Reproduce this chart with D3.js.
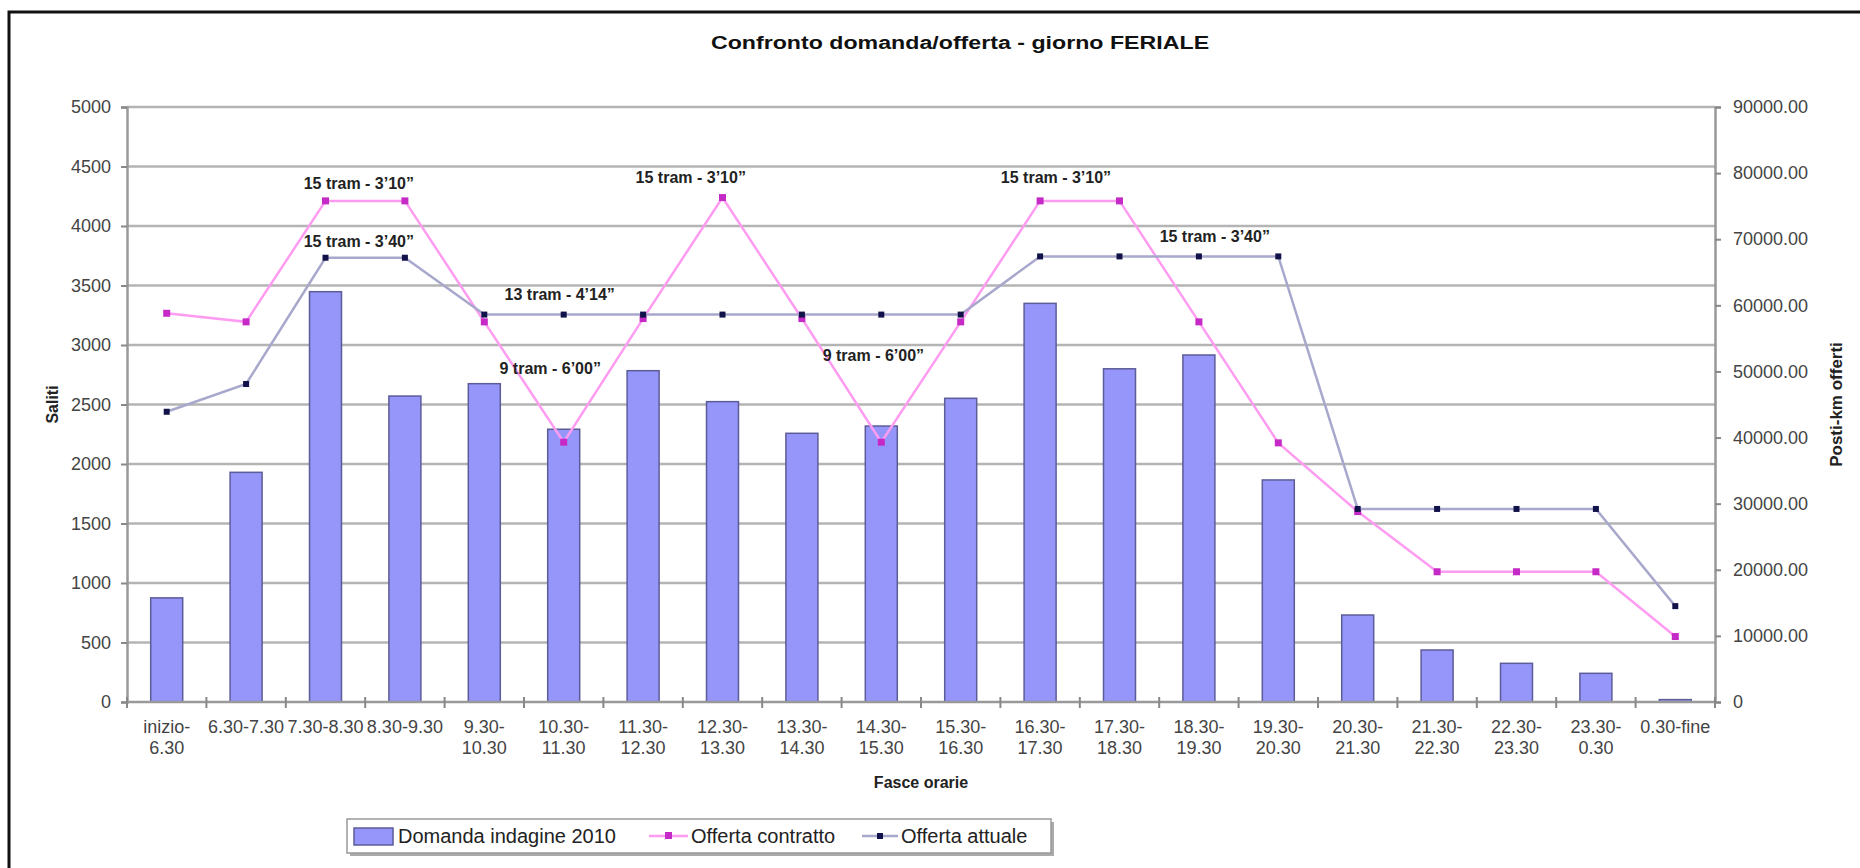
<!DOCTYPE html>
<html>
<head>
<meta charset="utf-8">
<script src="https://cdn.jsdelivr.net/npm/d3@7"></script>
<style>
	body { margin: 0; background: #ffffff; }
	svg text { font-family: "Liberation Sans", Arial, sans-serif; }
</style>
</head>
<body>
<div id="chart"></div>
<script>
// confronto domanda / offerta - giorno feriale

var fasce = [["inizio-","6.30"],["6.30-7.30"],["7.30-8.30"],["8.30-9.30"],["9.30-","10.30"],
	["10.30-","11.30"],["11.30-","12.30"],["12.30-","13.30"],["13.30-","14.30"],["14.30-","15.30"],
	["15.30-","16.30"],["16.30-","17.30"],["17.30-","18.30"],["18.30-","19.30"],["19.30-","20.30"],
	["20.30-","21.30"],["21.30-","22.30"],["22.30-","23.30"],["23.30-","0.30"],["0.30-fine"]];

var domanda = [875, 1930, 3448, 2571, 2675, 2292, 2784, 2524, 2258, 2319,
	2552, 3350, 2800, 2916, 1866, 731, 437, 325, 241, 20];

var offertaContratto = [58800, 57500, 75800, 75800, 57500, 39300, 58000, 76300, 58000, 39300,
	57500, 75800, 75800, 57500, 39200, 28800, 19700, 19700, 19700, 9900];

var offertaAttuale = [43900, 48100, 67200, 67200, 58600, 58600, 58600, 58600, 58600, 58600,
	58600, 67400, 67400, 67400, 67400, 29200, 29200, 29200, 29200, 14500];

var yTicksLeft = [0, 500, 1000, 1500, 2000, 2500, 3000, 3500, 4000, 4500, 5000];
var yTicksRight = [0, 10000, 20000, 30000, 40000, 50000, 60000, 70000, 80000, 90000];

// note testuali (posizione = indice fascia, valore asse destro)
var noteTxt = ["15 tram - 3’10”", "15 tram - 3’40”", "13 tram - 4’14”", "9 tram - 6’00”",
	"15 tram - 3’10”", "9 tram - 6’00”", "15 tram - 3’10”", "15 tram - 3’40”"];
var notePos = [2.42, 2.42, 4.95, 4.83, 6.6, 8.9, 11.2, 13.2];
var noteVal = [78500, 69600, 61600, 50400, 79300, 52500, 79300, 70500];

var width = 1860, height = 868;
var pLeft = 127, pRight = 1715, pTop = 107, pBottom = 702;

var svg = d3.select('#chart')
	.append('svg')
	.attr('width', width)
	.attr('height', height);

// cornice
svg.append('rect')
	.attr('x', 9).attr('y', 12)
	.attr('width', width + 20).attr('height', height + 20)
	.attr('fill', 'white')
	.attr('stroke', '#111').attr('stroke-width', 3);

var x = d3.scaleBand()
	.domain(d3.range(fasce.length))
	.range([pLeft, pRight])
	.paddingInner(0.597)
	.paddingOuter(0.2985);
var xc = function(i) { return x(i) + x.bandwidth() / 2; };
var step = x.step();

var yL = d3.scaleLinear().domain([0, 5000]).range([pBottom, pTop]);
var yR = d3.scaleLinear().domain([0, 90000]).range([pBottom, pTop]);

// griglia
svg.append('g')
	.selectAll('line')
	.data(yTicksLeft.filter(function(d) { return d > 0; }))
	.enter()
	.append('line')
	.attr('x1', pLeft).attr('x2', pRight)
	.attr('y1', function(d) { return yL(d); })
	.attr('y2', function(d) { return yL(d); })
	.attr('stroke', '#b4b4b4')
	.attr('stroke-width', 2.5);

// asse sinistro
var axL = svg.append('g')
	.attr('transform', 'translate(' + pLeft + ',0)')
	.call(d3.axisLeft(yL).tickValues(yTicksLeft).tickSize(6).tickPadding(10)
		.tickFormat(d3.format('d')));
axL.select('.domain').attr('stroke', '#999').attr('stroke-width', 2.5);
axL.selectAll('.tick line').attr('stroke', '#888').attr('stroke-width', 2);
axL.selectAll('.tick text').attr('font-size', 18).attr('fill', '#444');

// asse destro
var axR = svg.append('g')
	.attr('transform', 'translate(' + pRight + ',0)')
	.call(d3.axisRight(yR).tickValues(yTicksRight).tickSize(6).tickPadding(12)
		.tickFormat(function(d) { return d === 0 ? "0" : d3.format(".2f")(d); }));
axR.select('.domain').attr('stroke', '#999').attr('stroke-width', 2.5);
axR.selectAll('.tick line').attr('stroke', '#888').attr('stroke-width', 2);
axR.selectAll('.tick text').attr('font-size', 18).attr('fill', '#444');

// barre domanda
svg.append('g')
	.selectAll('rect.bars')
	.data(domanda)
	.enter()
	.append('rect')
	.attr('class', 'bars')
	.attr('x', function(d, i) { return x(i); })
	.attr('y', function(d) { return yL(d); })
	.attr('width', x.bandwidth())
	.attr('height', function(d) { return pBottom - yL(d); })
	.attr('fill', '#9595fa')
	.attr('stroke', '#5c5c99')
	.attr('stroke-width', 1.5);

// asse x
svg.append('line')
	.attr('x1', pLeft).attr('x2', pRight)
	.attr('y1', pBottom).attr('y2', pBottom)
	.attr('stroke', '#999').attr('stroke-width', 2.5);
svg.append('g')
	.selectAll('line')
	.data(d3.range(fasce.length + 1))
	.enter()
	.append('line')
	.attr('x1', function(k) { return pLeft + k * step; })
	.attr('x2', function(k) { return pLeft + k * step; })
	.attr('y1', pBottom - 5).attr('y2', pBottom + 6)
	.attr('stroke', '#888').attr('stroke-width', 2);

var xl = svg.append('g')
	.selectAll('text')
	.data(fasce)
	.enter()
	.append('text')
	.attr('text-anchor', 'middle')
	.attr('font-size', 18)
	.attr('fill', '#444');
xl.selectAll('tspan')
	.data(function(d, i) { return d.map(function(s) { return { s: s, i: i }; }); })
	.enter()
	.append('tspan')
	.attr('x', function(d) { return xc(d.i); })
	.attr('y', function(d, j) { return 733 + j * 21; })
	.text(function(d) { return d.s; });

// linee offerta
function serie(vals, lineCol, lineW, markCol, size) {
	var line = d3.line()
		.x(function(d, i) { return xc(i); })
		.y(function(d) { return yR(d); });
	svg.append('path')
		.datum(vals)
		.attr('d', line)
		.attr('fill', 'none')
		.attr('stroke', lineCol)
		.attr('stroke-width', lineW);
	svg.append('g')
		.selectAll('rect')
		.data(vals)
		.enter()
		.append('rect')
		.attr('x', function(d, i) { return xc(i) - size / 2; })
		.attr('y', function(d) { return yR(d) - size / 2; })
		.attr('width', size).attr('height', size)
		.attr('fill', markCol);
}
serie(offertaContratto, '#ff9cf2', 2.5, '#c62ac6', 7);
serie(offertaAttuale, '#a8a8cc', 2.5, '#12124a', 6);

// note
svg.append('g')
	.selectAll('text')
	.data(noteTxt)
	.enter()
	.append('text')
	.attr('x', function(d, i) { return pLeft + step * (notePos[i] + 0.5); })
	.attr('y', function(d, i) { return yR(noteVal[i]); })
	.attr('dy', '0.35em')
	.attr('text-anchor', 'middle')
	.attr('font-size', 16)
	.attr('font-weight', 'bold')
	.attr('fill', '#222')
	.text(function(d) { return d; });

// titoli (il titolo originale e' allargato in orizzontale)
svg.append('text')
	.attr('transform', 'translate(960,49) scale(1.22,1)')
	.attr('text-anchor', 'middle')
	.attr('font-size', 19).attr('font-weight', 'bold')
	.attr('fill', '#111')
	.text('Confronto domanda/offerta - giorno FERIALE');

svg.append('text')
	.attr('x', (pLeft + pRight) / 2).attr('y', 788)
	.attr('text-anchor', 'middle')
	.attr('font-size', 16).attr('font-weight', 'bold')
	.attr('fill', '#222')
	.text('Fasce orarie');

svg.append('text')
	.attr('transform', 'translate(58,' + (pTop + pBottom) / 2 + ') rotate(-90)')
	.attr('text-anchor', 'middle')
	.attr('font-size', 16).attr('font-weight', 'bold')
	.attr('fill', '#222')
	.text('Saliti');

svg.append('text')
	.attr('transform', 'translate(1842,' + (pTop + pBottom) / 2 + ') rotate(-90)')
	.attr('text-anchor', 'middle')
	.attr('font-size', 17).attr('font-weight', 'bold')
	.attr('fill', '#222')
	.text('Posti-km offerti');

// legenda
var lg = svg.append('g');
lg.append('rect')
	.attr('x', 350).attr('y', 822).attr('width', 704).attr('height', 34)
	.attr('fill', '#aaa');
lg.append('rect')
	.attr('x', 347).attr('y', 819).attr('width', 704).attr('height', 34)
	.attr('fill', 'white').attr('stroke', '#999').attr('stroke-width', 1.5);
lg.append('rect')
	.attr('x', 354).attr('y', 828).attr('width', 39).attr('height', 17)
	.attr('fill', '#9595fa').attr('stroke', '#5c5c99').attr('stroke-width', 1.5);
lg.append('text')
	.attr('x', 398).attr('y', 843)
	.attr('font-size', 20).attr('fill', '#222')
	.text('Domanda indagine 2010');
lg.append('line')
	.attr('x1', 649).attr('x2', 688).attr('y1', 836).attr('y2', 836)
	.attr('stroke', '#ff9cf2').attr('stroke-width', 2.5);
lg.append('rect')
	.attr('x', 665).attr('y', 832).attr('width', 7).attr('height', 7)
	.attr('fill', '#c62ac6');
lg.append('text')
	.attr('x', 691).attr('y', 843)
	.attr('font-size', 20).attr('fill', '#222')
	.text('Offerta contratto');
lg.append('line')
	.attr('x1', 862).attr('x2', 898).attr('y1', 836).attr('y2', 836)
	.attr('stroke', '#a8a8cc').attr('stroke-width', 2.5);
lg.append('rect')
	.attr('x', 877).attr('y', 833).attr('width', 6).attr('height', 6)
	.attr('fill', '#12124a');
lg.append('text')
	.attr('x', 901).attr('y', 843)
	.attr('font-size', 20).attr('fill', '#222')
	.text('Offerta attuale');
</script>
</body>
</html>
